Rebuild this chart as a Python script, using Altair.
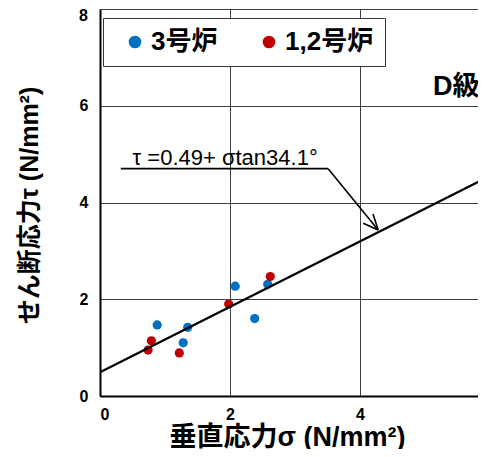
import altair as alt
import pandas as pd

# ---- data ----
series_names = ["3号炉", "1,2号炉"]
series_colors = ["#0070C0", "#C00000"]

furnace3_sigma = [0.88, 1.35, 1.28, 2.08, 2.38, 2.58]
furnace3_tau = [1.47, 1.42, 1.10, 2.27, 1.60, 2.31]
furnace12_sigma = [0.79, 0.74, 1.22, 1.98, 2.62]
furnace12_tau = [1.14, 0.95, 0.89, 1.90, 2.47]

fit_sigma = [0.0, 6.0]
fit_tau = [0.49, 4.55]

x_ticks = [0, 2, 4, 6]
y_ticks = [0, 2, 4, 6, 8]

equation_label = "τ =0.49+ σtan34.1°"
grade_label = "D級"
x_title = "垂直応力σ (N/mm²)"
y_title = "せん断応力τ (N/mm²)"

# annotation leader (underline, pointer, arrow head) in data units
leader_x = [0.32, 3.51, 4.28, 4.28]
leader_y = [4.70, 4.70, 3.43, 3.43]
leader_x2 = [3.51, 4.28, 4.05, 4.20]
leader_y2 = [4.70, 3.43, 3.57, 3.76]

CJK = "Liberation Sans, Noto Sans CJK JP, sans-serif"
NUM = "Liberation Sans, Arial, sans-serif"

pts = pd.DataFrame({
    "sigma": furnace3_sigma + furnace12_sigma,
    "tau": furnace3_tau + furnace12_tau,
    "series": [series_names[0]] * len(furnace3_sigma) + [series_names[1]] * len(furnace12_sigma),
})
fit = pd.DataFrame({"sigma": fit_sigma, "tau": fit_tau})
leader = pd.DataFrame({"x": leader_x, "y": leader_y, "x2": leader_x2, "y2": leader_y2})

xscale = alt.Scale(domain=[0, 6], nice=False)
yscale = alt.Scale(domain=[0, 8], nice=False)

xaxis = alt.Axis(
    values=x_ticks, grid=True, ticks=False, format="d",
    labelFont=NUM, labelFontWeight="bold", labelFontSize=16, labelPadding=10,
    title=x_title, titleFont=CJK, titleFontWeight="bold", titleFontSize=27,
    titleX=187, titleY=49, titleBaseline="alphabetic", titleAlign="center",
)
yaxis = alt.Axis(
    values=y_ticks, grid=True, ticks=False, format="d",
    labelFont=NUM, labelFontWeight="bold", labelFontSize=16, labelPadding=12,
    labelExpr="datum.value == 8 ? '' : datum.label",
    title=y_title, titleFont=CJK, titleFontWeight="bold", titleFontSize=25,
    titleX=-71, titleY=196, titleAngle=270, titleBaseline="middle", titleAlign="center",
)

base = alt.Chart(pts)

points = base.mark_circle(size=85, opacity=1).encode(
    x=alt.X("sigma:Q", scale=xscale, axis=xaxis),
    y=alt.Y("tau:Q", scale=yscale, axis=yaxis),
    color=alt.Color(
        "series:N",
        scale=alt.Scale(domain=series_names, range=series_colors),
        legend=alt.Legend(
            orient="none", legendX=3, legendY=9, direction="horizontal", title=None,
            fillColor="white", strokeColor="#333333", padding=11,
            symbolType="circle", symbolSize=160, symbolStrokeWidth=0, symbolOffset=8,
            labelFont=CJK, labelFontWeight="bold", labelFontSize=26, labelOffset=3,
            columnPadding=30, labelLimit=300,
            labelExpr="datum.label == '1,2号炉' ? datum.label + '\u3000' : datum.label",
        ),
    ),
)

fit_line = alt.Chart(fit).mark_line(color="black", strokeWidth=2.2, clip=True).encode(
    x="sigma:Q", y="tau:Q"
)

leader_rules = alt.Chart(leader).mark_rule(color="black", strokeWidth=1.6).encode(
    x="x:Q", y="y:Q", x2="x2:Q", y2="y2:Q"
)

eq_text = alt.Chart(pd.DataFrame({"x": [0.50], "y": [4.78], "t": [equation_label]})).mark_text(
    align="left", baseline="alphabetic", font=NUM, fontSize=22, color="black"
).encode(x="x:Q", y="y:Q", text="t:N")

grade_text = alt.Chart(pd.DataFrame({"x": [5.48], "y": [6.39], "t": [grade_label]})).mark_text(
    align="center", baseline="middle", font=CJK, fontSize=27, fontWeight="bold", color="black"
).encode(x="x:Q", y="y:Q", text="t:N")

top_label = alt.Chart(pd.DataFrame({"y": [8], "t": ["8"]})).mark_text(
    align="right", baseline="top", font=NUM, fontSize=16, fontWeight="bold", color="black", dy=-1
).encode(x=alt.value(-12), y="y:Q", text="t:N")

chart = alt.layer(points, fit_line, leader_rules, eq_text, grade_text, top_label).properties(
    width=390, height=387,
    padding={"left": 92, "top": 1, "right": -12, "bottom": 53},
    autosize=alt.AutoSizeParams(type="none"),
).configure_view(stroke=None).configure_axis(
    domainColor="black", domainWidth=2, gridColor="#404040", gridWidth=1, gridOpacity=1,
    labelColor="black", titleColor="black",
)

chart.save("out.html", embed_options={"renderer": "svg", "actions": False})
